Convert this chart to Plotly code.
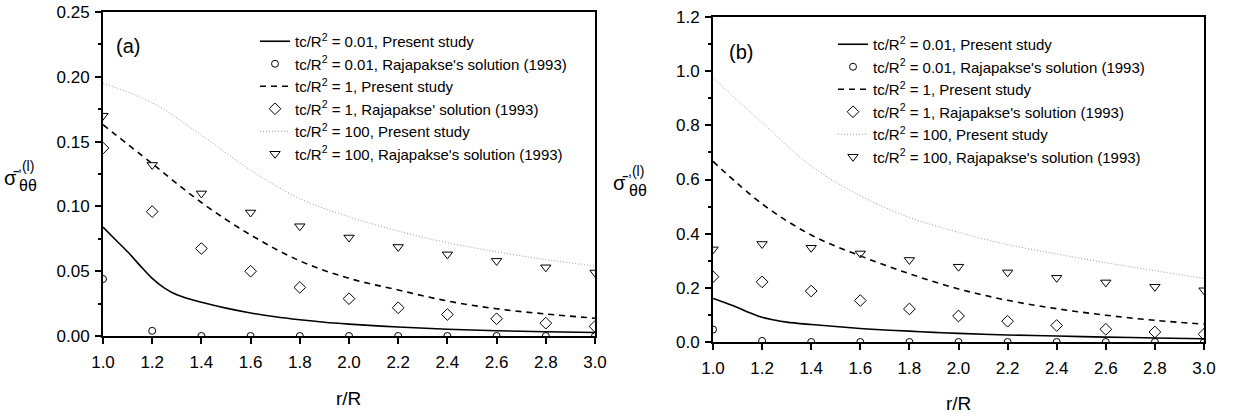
import plotly.graph_objects as go

# ---------------- data ----------------
x_pts = [1.0, 1.2, 1.4, 1.6, 1.8, 2.0, 2.2, 2.4, 2.6, 2.8, 3.0]
x_fine = [1.0, 1.05, 1.1, 1.15, 1.2, 1.25, 1.3, 1.4, 1.5, 1.6, 1.7, 1.8, 1.9, 2.0, 2.2, 2.4, 2.6, 2.8, 3.0]
x_ticks = [1.0, 1.2, 1.4, 1.6, 1.8, 2.0, 2.2, 2.4, 2.6, 2.8, 3.0]

# panel (a)
a_solid = [0.084, 0.0745, 0.065, 0.0545, 0.0445, 0.037, 0.0318, 0.026, 0.0215, 0.0178, 0.0148,
           0.0125, 0.0106, 0.0092, 0.0069, 0.0052, 0.0041, 0.0033, 0.0027]
a_circ = [0.044, 0.004, 0.0, 0.0, 0.0, 0.0, 0.0, 0.0, 0.0, 0.0, 0.0]
a_dash = [0.163, 0.133, 0.103, 0.078, 0.058, 0.0445, 0.0355, 0.027, 0.021, 0.017, 0.0137]
a_diam = [0.145, 0.096, 0.0675, 0.050, 0.0375, 0.0288, 0.0218, 0.0166, 0.0133, 0.0099, 0.0074]
a_dot = [0.195, 0.180, 0.155, 0.128, 0.106, 0.092, 0.081, 0.072, 0.065, 0.059, 0.054]
a_tri = [0.170, 0.132, 0.110, 0.0953, 0.0847, 0.076, 0.0687, 0.063, 0.058, 0.053, 0.049]

# panel (b)
b_solid = [0.161, 0.145, 0.127, 0.108, 0.091, 0.081, 0.0735, 0.0645, 0.057, 0.050, 0.0445,
           0.040, 0.0355, 0.032, 0.026, 0.022, 0.018, 0.015, 0.012]
b_circ = [0.046, 0.004, 0.0, 0.0, 0.0, 0.0, 0.0, 0.0, 0.0, 0.0, 0.0]
b_dash = [0.667, 0.51, 0.395, 0.318, 0.252, 0.196, 0.154, 0.123, 0.099, 0.080, 0.066]
b_diam = [0.241, 0.222, 0.188, 0.153, 0.122, 0.096, 0.0767, 0.061, 0.047, 0.037, 0.0285]
b_dot = [0.976, 0.81, 0.65, 0.54, 0.46, 0.405, 0.36, 0.325, 0.293, 0.263, 0.235]
b_tri = [0.342, 0.362, 0.348, 0.327, 0.303, 0.278, 0.257, 0.237, 0.220, 0.204, 0.191]

names_a = [
    "tc/R<sup>2</sup> = 0.01, Present study",
    "tc/R<sup>2</sup> = 0.01, Rajapakse's solution (1993)",
    "tc/R<sup>2</sup> = 1, Present study",
    "tc/R<sup>2</sup> = 1, Rajapakse' solution (1993)",
    "tc/R<sup>2</sup> = 100, Present study",
    "tc/R<sup>2</sup> = 100, Rajapakse's solution (1993)",
]
names_b = [
    "tc/R<sup>2</sup> = 0.01, Present study",
    "tc/R<sup>2</sup> = 0.01, Rajapakse's solution (1993)",
    "tc/R<sup>2</sup> = 1, Present study",
    "tc/R<sup>2</sup> = 1, Rajapakse's solution (1993)",
    "tc/R<sup>2</sup> = 100, Present study",
    "tc/R<sup>2</sup> = 100, Rajapakse's solution (1993)",
]

# ---------------- figure ----------------
W, H = 1238, 417
FONT = "Liberation Sans, Arial, sans-serif"


def px(x):
    return x / W


def py(y):
    return 1 - y / H


fig = go.Figure()

SOLID = dict(color="black", width=1.6)
DASH = dict(color="black", width=1.6, dash="6px,5px")
DOT = dict(color="#9a9a9a", width=1, dash="1px,2px")


def add_panel(xa, ya, leg, names, solid, circ, dash, diam, dot, tri, tag):
    common = dict(xaxis=xa, yaxis=ya, legend=leg)
    fig.add_trace(go.Scatter(x=x_fine, y=solid, mode="lines", line=SOLID, name=names[0],
                             line_shape="spline", legendgroup=tag + "1", **common))
    fig.add_trace(go.Scatter(x=x_pts, y=circ, mode="markers", name=names[1],
                             marker=dict(symbol="circle-open", size=7, color="black", line=dict(width=1)),
                             legendgroup=tag + "2", **common))
    fig.add_trace(go.Scatter(x=x_pts, y=dash, mode="lines", line=DASH, name=names[2],
                             line_shape="spline", legendgroup=tag + "3", **common))
    fig.add_trace(go.Scatter(x=x_pts, y=diam, mode="markers", name=names[3],
                             marker=dict(symbol="diamond-open", size=9, color="black", line=dict(width=1)),
                             legendgroup=tag + "4", **common))
    fig.add_trace(go.Scatter(x=x_pts, y=dot, mode="lines", line=DOT, name=names[4],
                             line_shape="spline", legendgroup=tag + "5", **common))
    fig.add_trace(go.Scatter(x=x_pts, y=tri, mode="markers", name=names[5],
                             marker=dict(symbol="triangle-down-open", size=9, color="black", line=dict(width=1)),
                             legendgroup=tag + "6", **common))


add_panel("x", "y", "legend", names_a, a_solid, a_circ, a_dash, a_diam, a_dot, a_tri, "a")
add_panel("x2", "y2", "legend2", names_b, b_solid, b_circ, b_dash, b_diam, b_dot, b_tri, "b")

tickfont = dict(family=FONT, size=17, color="black")
xax = dict(range=[1.0, 3.0], tickvals=x_ticks, tickformat=".1f", showgrid=False, zeroline=False,
           showline=True, mirror=True, linecolor="black", linewidth=2, automargin=False,
           ticks="outside", ticklen=6, tickwidth=1.5, tickcolor="black", tickfont=tickfont,
           ticklabelstandoff=4)
yax = dict(showgrid=False, zeroline=False, showline=True, mirror=True, linecolor="black",
           linewidth=2, ticks="outside", ticklen=6, tickwidth=1.5, tickcolor="black",
           tickfont=tickfont, ticklabelstandoff=2, automargin=False)
legend_common = dict(font=dict(family=FONT, size=15, color="black"), bgcolor="rgba(0,0,0,0)",
                     xanchor="left", yanchor="top", tracegroupgap=0)

fig.update_layout(
    template="none",
    width=W, height=H, autosize=False,
    margin=dict(l=0, r=0, t=0, b=0, pad=0, autoexpand=False),
    paper_bgcolor="white", plot_bgcolor="white",
    showlegend=True,
    xaxis=dict(domain=[px(103), px(595)], anchor="y", **xax),
    yaxis=dict(domain=[py(336), py(12)], anchor="x", range=[0, 0.25], dtick=0.05, tick0=0,
               tickformat=".2f",
               minor=dict(ticks="outside", ticklen=3, tickwidth=1.5, tickcolor="black", dtick=0.025),
               **yax),
    xaxis2=dict(domain=[px(713), px(1204)], anchor="y2", **xax),
    yaxis2=dict(domain=[py(342), py(17)], anchor="x2", range=[0, 1.2], dtick=0.2, tick0=0,
                tickformat=".1f",
                minor=dict(ticks="outside", ticklen=3, tickwidth=1.5, tickcolor="black", dtick=0.1),
                **yax),
    legend=dict(x=px(255), y=py(25), **legend_common),
    legend2=dict(x=px(833), y=py(28), **legend_common),
)

ann = []


def txt(x, y, s, size, xanchor="center", yanchor="middle"):
    ann.append(dict(x=px(x), y=py(y), xref="paper", yref="paper", text=s, showarrow=False,
                    xanchor=xanchor, yanchor=yanchor,
                    font=dict(family=FONT, size=size, color="black")))


txt(128, 46, "(a)", 20)
txt(741, 52, "(b)", 20)
txt(348, 398, "r/R", 19)
txt(958, 403, "r/R", 19)
for dx, dy in [(0, 0), (610, 5)]:
    txt(11 + dx, 178 + dy, "\u03c3\u0304", 20)
    txt(16 + dx, 166 + dy, ",(l)", 14, xanchor="left")
    txt(17 + dx, 185 + dy, "\u03b8\u03b8", 16, xanchor="left")

fig.update_layout(annotations=ann)

fig.write_html("out.html")
